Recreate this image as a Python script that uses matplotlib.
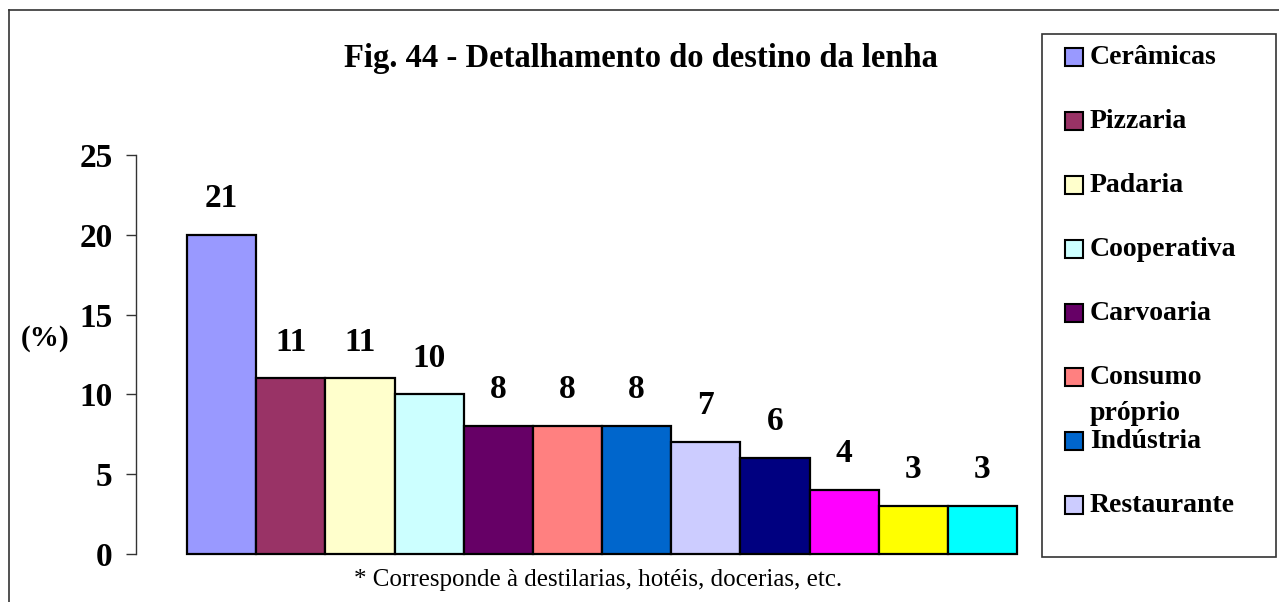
import numpy as np
import matplotlib
matplotlib.use('Agg')
import matplotlib.pyplot as plt
from matplotlib.patches import Rectangle
from matplotlib.lines import Line2D

plt.rcParams['font.family'] = ['Liberation Serif', 'DejaVu Serif']

title = 'Fig. 44 - Detalhamento do destino da lenha'
footnote = '* Corresponde à destilarias, hotéis, docerias, etc.'

values = [20, 11, 11, 10, 8, 8, 8, 7, 6, 4, 3, 3]
labels = ['21', '11', '11', '10', '8', '8', '8', '7', '6', '4', '3', '3']
colors = ['#9999FF', '#993366', '#FFFFCC', '#CCFFFF', '#660066', '#FF8080',
          '#0066CC', '#CCCCFF', '#000080', '#FF00FF', '#FFFF00', '#00FFFF']
legend_names = ['Cerâmicas', 'Pizzaria', 'Padaria', 'Cooperativa', 'Carvoaria',
                'Consumo\npróprio', 'Indústria', 'Restaurante']
yticks = [0, 5, 10, 15, 20, 25]

W, H = 1279, 602
fig = plt.figure(figsize=(W / 100, H / 100), dpi=100)

def fx(px):
    return px / W

def fy(py):
    return 1 - py / H

# plot area
ax = fig.add_axes([fx(136), fy(554), fx(1017) - fx(136), fy(155) - fy(554)])
x = np.arange(len(values))
ax.bar(x, values, width=1.0, align='edge', color=colors, edgecolor='black',
       linewidth=1.6, clip_on=False)
for xi, v, lab in zip(x, values, labels):
    ax.annotate(lab, (xi + 0.5, v), xytext=(0, 15), textcoords='offset points',
                ha='center', va='bottom', fontsize=24, fontweight='bold')

ax.set_xlim(-0.74, len(values))
ax.set_ylim(0, 25)
ax.set_yticks(yticks)
ax.set_yticklabels([str(t) for t in yticks], fontsize=24, fontweight='bold')
ax.tick_params(axis='y', direction='out', length=7, width=1, pad=10, color='#333333')
ax.set_xticks([])
for s in ['top', 'right', 'bottom']:
    ax.spines[s].set_visible(False)
ax.spines['left'].set_linewidth(1)
ax.spines['left'].set_color('#333333')

fig.text(fx(45), fy(338), '(%)', ha='center', va='center', fontsize=21, fontweight='bold')
fig.text(fx(641), fy(59), title, ha='center', va='center', fontsize=23.5, fontweight='bold')
fig.text(fx(598), fy(580), footnote, ha='center', va='center', fontsize=18)

# outer border
fig.add_artist(Line2D([fx(9), 1], [fy(10), fy(10)], color='#333333', lw=1.2))
fig.add_artist(Line2D([fx(9), fx(9)], [fy(10), 0], color='#333333', lw=1.2))

# legend box
fig.add_artist(Rectangle((fx(1042), fy(557)), fx(1276) - fx(1042), fy(34) - fy(557),
                         transform=fig.transFigure, facecolor='white',
                         edgecolor='#333333', lw=1.2))
row_y = 57
for name, col in zip(legend_names, colors):
    fig.add_artist(Rectangle((fx(1065), fy(row_y + 9)), fx(18), fy(0) - fy(18),
                             transform=fig.transFigure, facecolor=col,
                             edgecolor='black', lw=1.5))
    parts = name.split('\n')
    for k, p in enumerate(parts):
        fig.text(fx(1090), fy(row_y + k * 36), p, ha='left', va='center',
                 fontsize=20, fontweight='bold')
    row_y += 64

fig.savefig('out.png', dpi=100)
